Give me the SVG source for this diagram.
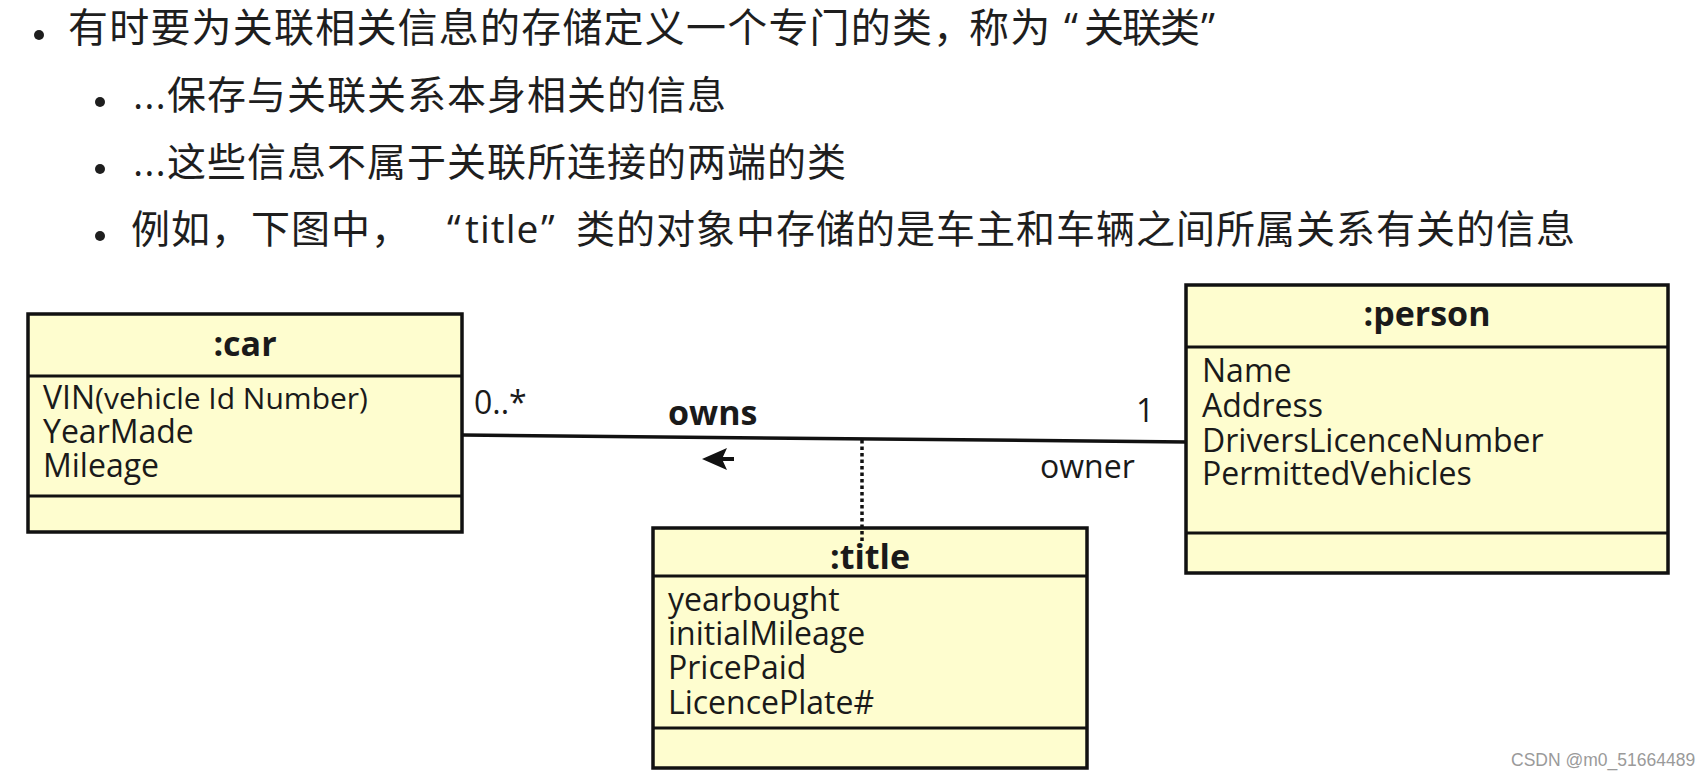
<svg xmlns="http://www.w3.org/2000/svg" width="1702" height="778" viewBox="0 0 1702 778">
<style>
.bg{fill:#ffffff}
.cjk{font-family:"Open Sans","Noto Sans CJK SC",sans-serif;font-size:39px;letter-spacing:1px;fill:#1e1e1e}
.cjk1{font-family:"Open Sans","Noto Sans CJK SC",sans-serif;font-size:40px;letter-spacing:1.2px;fill:#1e1e1e}
.tight{letter-spacing:-2px}
.bul{fill:#1e1e1e}
.box{fill:#FEFDCF;stroke:#111;stroke-width:3.5}
.div{stroke:#111;stroke-width:3}
.ttl{font-family:"Open Sans","Noto Sans",sans-serif;font-weight:700;font-size:34px;text-anchor:middle;fill:#1a1a1a}
.attr{font-family:"Open Sans","Noto Sans",sans-serif;font-size:32px;fill:#1a1a1a}
.small{font-size:30px}
.lbl{font-family:"Open Sans","Noto Sans",sans-serif;font-size:32px;fill:#1a1a1a}
.lblb{font-family:"Open Sans","Noto Sans",sans-serif;font-size:34px;font-weight:700;fill:#1a1a1a}
.assoc{stroke:#111;stroke-width:3.5;fill:none}
.dot{stroke:#111;stroke-width:3.5;stroke-dasharray:3.5 3;fill:none}
.wm{font-family:"Liberation Sans",Arial,sans-serif;font-size:17.5px;fill:#9a9a9a}
</style>
<rect class="bg" x="0" y="0" width="1702" height="778"/>

<g id="bullets">
  <circle class="bul" cx="39" cy="35" r="5"/>
  <text class="cjk1" x="68" y="42">有时要为关联相关信息的存储定义一个专门的类<tspan x="933">，</tspan><tspan x="969">称为</tspan><tspan x="1064">“</tspan><tspan x="1084" class="tight">关联类</tspan><tspan x="1201">”</tspan></text>
  <circle class="bul" cx="100" cy="102" r="5"/>
  <text class="cjk" x="133" y="109">...<tspan x="167">保存与关联关系本身相关的信息</tspan></text>
  <circle class="bul" cx="100" cy="169" r="5"/>
  <text class="cjk" x="133" y="176">...<tspan x="167">这些信息不属于关联所连接的两端的类</tspan></text>
  <circle class="bul" cx="100" cy="236" r="5"/>
  <text class="cjk" x="131" y="243">例如，下图中，<tspan x="447">“</tspan><tspan x="465">title</tspan><tspan x="541">”</tspan><tspan x="576">类的对象中存储的是车主和车辆之间所属关系有关的信息</tspan></text>
</g>

<g id="car">
  <rect class="box" x="28" y="314" width="434" height="218"/>
  <line class="div" x1="28" y1="376" x2="462" y2="376"/>
  <line class="div" x1="28" y1="496" x2="462" y2="496"/>
  <text class="ttl" x="245" y="356">:car</text>
  <text class="attr" x="43" y="409">VIN<tspan class="small">(vehicle Id Number)</tspan></text>
  <text class="attr" x="43" y="443">YearMade</text>
  <text class="attr" x="43" y="477">Mileage</text>
</g>

<g id="person">
  <rect class="box" x="1186" y="285" width="482" height="288"/>
  <line class="div" x1="1186" y1="347" x2="1668" y2="347"/>
  <line class="div" x1="1186" y1="533" x2="1668" y2="533"/>
  <text class="ttl" x="1427" y="326">:person</text>
  <text class="attr" x="1202" y="382">Name</text>
  <text class="attr" x="1202" y="417">Address</text>
  <text class="attr" x="1202" y="452">DriversLicenceNumber</text>
  <text class="attr" x="1202" y="485">PermittedVehicles</text>
</g>

<g id="title">
  <rect class="box" x="653" y="528" width="434" height="240"/>
  <line class="div" x1="653" y1="576" x2="1087" y2="576"/>
  <line class="div" x1="653" y1="728" x2="1087" y2="728"/>
  <text class="ttl" x="870" y="569">:title</text>
  <text class="attr" x="668" y="611">yearbought</text>
  <text class="attr" x="668" y="645">initialMileage</text>
  <text class="attr" x="668" y="679">PricePaid</text>
  <text class="attr" x="668" y="714">LicencePlate#</text>
</g>

<g id="connectors">
  <line class="assoc" x1="462" y1="435" x2="1187" y2="442"/>
  <line class="dot" x1="862" y1="440" x2="862" y2="541"/>
  <polygon points="702,459 727,448 722,459 727,470" fill="#111"/>
  <line x1="720" y1="459" x2="734" y2="459" stroke="#111" stroke-width="4"/>
  <text class="lblb" x="668" y="425">owns</text>
  <text class="lbl" x="474" y="414">0..*</text>
  <text class="lbl" x="1136" y="422">1</text>
  <text class="lbl" x="1040" y="478">owner</text>
</g>

<g id="watermark">
  <text class="wm" x="1511" y="766">CSDN @m0_51664489</text>
</g>
</svg>
